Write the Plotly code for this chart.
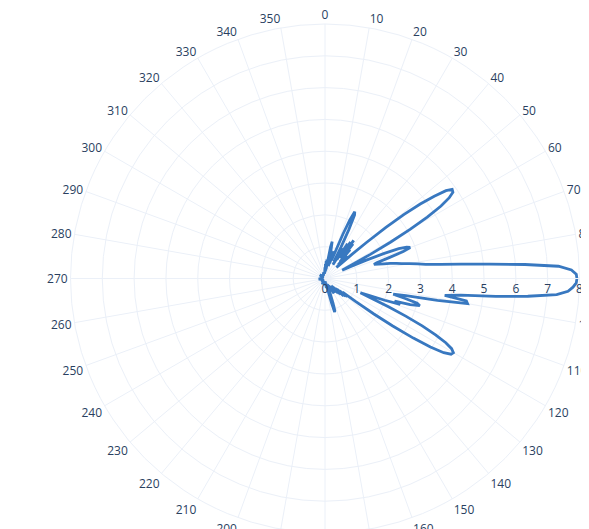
import plotly.graph_objects as go

# compass angles (deg, clockwise from top) and array-factor magnitude
theta_front = [
    0, 1, 2, 3, 4, 5, 6, 7, 8, 9, 10, 11, 12, 13, 14, 15, 16, 17, 18, 19,
    20, 21, 22, 23, 24, 25, 26, 27, 28, 29, 30, 31, 32, 33, 34, 35, 36, 37, 38, 39,
    40, 41, 42, 43, 44, 45, 46, 47, 48, 49, 50, 51, 52, 53, 54, 55, 56, 57, 58, 59,
    60, 61, 62, 63, 64, 65, 66, 67, 68, 69, 70, 71, 72, 73, 74, 75, 76, 77, 78, 79,
    80, 81, 82, 83, 84, 85, 86, 87, 88, 89, 90, 91, 92, 93, 94, 95, 96, 97, 98, 99,
    100, 101, 102, 103, 104, 105, 106, 107, 108, 109, 110, 111, 112, 113, 114, 115, 116, 117, 118, 119,
    120, 121, 122, 123, 124, 125, 126, 127, 128, 129, 130, 131, 132, 133, 134, 135, 136, 137, 138, 139,
    140, 141, 142, 143, 144, 145, 146, 147, 148, 149, 150, 151, 152, 153, 154, 155, 156, 157, 158, 159,
    160, 161, 162, 163, 164, 165, 166, 167, 168, 169, 170, 171, 172, 173, 174, 175, 176, 177, 178, 179,
    180,
]
r_front = [
    0.35, 0.20, 0.45, 0.30, 0.55, 0.25, 0.60, 0.30, 0.50, 0.60, 1.00, 1.18, 0.90, 0.50, 0.70, 0.40, 0.80, 0.50, 0.90, 0.60,
    0.70, 0.90, 1.50, 2.00, 2.30, 2.20, 1.70, 1.10, 0.60, 0.90, 0.50, 1.10, 0.70, 1.30, 0.80, 1.40, 0.90, 1.50, 1.00, 1.40,
    0.80, 1.20, 0.70, 1.00, 0.60, 0.90, 0.50, 0.60, 1.10, 1.70, 2.50, 3.20, 3.80, 4.30, 4.70, 4.88, 4.85, 4.65, 4.30, 3.75,
    3.10, 2.35, 1.60, 1.00, 0.60, 0.90, 1.40, 2.00, 2.50, 2.75, 2.85, 2.60, 2.10, 1.70, 1.60, 1.75, 1.90, 2.10, 2.30, 2.45,
    2.70, 2.95, 3.20, 3.65, 4.30, 5.20, 6.30, 7.35, 7.75, 7.90, 7.92, 7.90, 7.80, 7.65, 7.30, 6.40, 5.40, 4.30, 3.80, 4.50,
    4.55, 3.60, 2.60, 2.20, 2.60, 3.00, 3.10, 2.80, 2.30, 2.50, 2.00, 1.50, 1.20, 1.60, 2.20, 2.80, 3.40, 3.90, 4.30, 4.55,
    4.66, 4.62, 4.40, 3.95, 3.35, 2.60, 1.90, 1.20, 0.70, 0.90, 0.60, 0.85, 0.50, 0.80, 0.45, 0.70, 0.40, 0.65, 0.35, 0.60,
    0.30, 0.55, 0.35, 0.50, 0.30, 0.45, 0.30, 0.50, 0.35, 0.55, 0.30, 0.45, 0.25, 0.40, 0.30, 0.45, 0.25, 0.35, 0.20, 0.40,
    0.30, 0.50, 0.80, 1.05, 1.10, 0.80, 0.40, 0.25, 0.30, 0.15, 0.25, 0.20, 0.30, 0.15, 0.20, 0.10, 0.20, 0.15, 0.10, 0.15,
    0.20,
]
theta_back = [185, 195, 205, 215, 225, 235, 245, 255, 265, 275, 285, 295, 305, 315, 325, 335, 345, 355, 360]
r_back = [0.15, 0.10, 0.20, 0.10, 0.15, 0.05, 0.15, 0.10, 0.20, 0.10, 0.15, 0.05, 0.20, 0.10, 0.15, 0.10, 0.20, 0.15, 0.35]

theta = theta_front + theta_back
r = r_front + r_back

fig = go.Figure(
    go.Scatterpolar(
        r=r,
        theta=theta,
        mode="lines",
        line=dict(color="#3878c0", width=2.8),
        showlegend=False,
    )
)

fig.update_layout(
    template="plotly_white",
    width=589,
    height=525,
    margin=dict(l=45, r=0, t=16, b=0),
    polar=dict(
        bgcolor="white",
        angularaxis=dict(rotation=90, direction="clockwise", dtick=10, ticksuffix=""),
        radialaxis=dict(range=[0, 8], dtick=1),
    ),
    showlegend=False,
)

fig.write_html("out.html")
